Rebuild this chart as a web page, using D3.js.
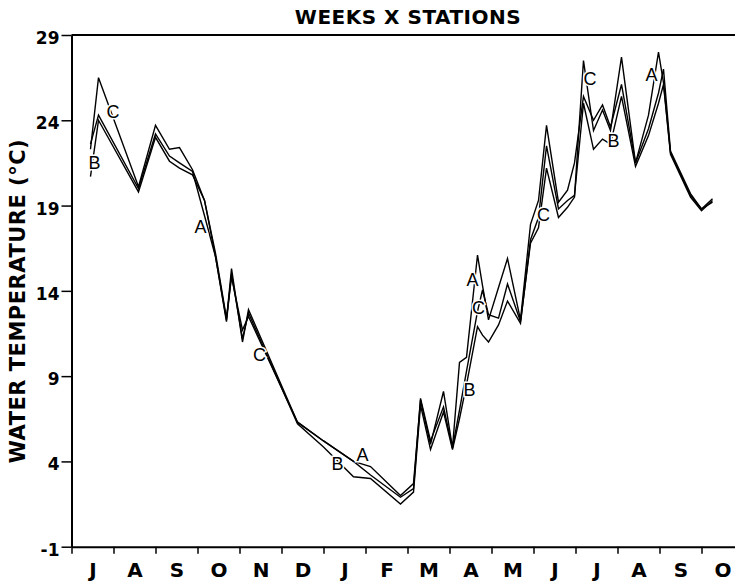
<!DOCTYPE html>
<html>
<head>
<meta charset="utf-8">
<script src="https://cdn.jsdelivr.net/npm/d3@7"></script>
<style>
  html, body { margin: 0; padding: 0; background: #fff; }
  svg { display: block; }
</style>
</head>
<body>
<svg id="chart" width="735" height="583"></svg>
<script>
// ---- data (x in months since 1 July of first year) ----
const monthLabels = ["J","A","S","O","N","D","J","F","M","A","M","J","J","A","S","O"];
const yTickValues = [29, 24, 19, 14, 9, 4, -1];
const sampleMonths = [0.452,0.643,1.595,2.000,2.333,2.571,2.881,3.167,3.429,3.690,3.810,4.071,4.214,5.381,6.000,6.714,7.119,7.833,8.143,8.310,8.548,8.857,9.071,9.238,9.405,9.667,9.786,9.929,10.167,10.381,10.690,10.929,11.119,11.310,11.595,11.810,11.976,12.190,12.429,12.643,12.833,13.095,13.429,13.738,13.976,14.095,14.262,14.738,15.000,15.262];
const stationA = [22.6,24.3,20.0,23.2,21.9,21.5,21.0,18.4,16.0,12.3,15.3,11.0,12.9,6.3,5.2,4.0,3.7,2.0,2.7,7.6,5.0,8.1,4.8,9.8,10.1,16.1,14.3,12.3,14.2,15.9,12.3,17.9,19.3,23.7,19.2,19.9,21.5,25.4,24.0,24.9,23.6,26.1,21.5,24.3,28.0,26.2,22.1,19.6,18.8,19.2];
const stationB = [20.7,24.0,19.8,23.0,21.6,21.2,20.8,19.3,16.0,12.2,15.0,11.2,12.7,6.2,4.85,3.1,3.0,1.5,2.2,7.3,4.7,6.9,4.7,6.5,8.5,11.9,11.4,11.0,12.0,13.4,12.1,17.0,18.3,22.5,18.8,19.3,19.6,25.0,22.3,22.9,22.6,25.4,21.3,23.1,25.0,26.1,22.0,19.5,18.7,19.3];
const stationC = [22.3,26.5,20.1,23.7,22.3,22.4,21.1,19.3,16.2,12.4,14.8,11.7,12.5,6.3,5.2,4.0,3.2,1.9,2.4,7.7,5.2,7.2,4.8,7.0,9.3,12.8,14.05,12.6,12.4,14.4,12.2,16.8,17.7,21.2,18.3,18.9,19.5,27.5,23.4,24.6,23.4,27.7,21.5,23.5,25.6,27.0,22.2,19.7,18.8,19.4];
const labelNames  = ["B","C","A","C","B","A","B","A","C","C","C","B","A"];
const labelMonths = [0.548,0.988,3.07,4.476,6.333,6.929,9.476,9.548,9.69,11.238,12.345,12.905,13.81];
const labelTemps  = [21.5,24.5,17.75,10.24,3.9,4.4,8.2,14.64,13.0,18.45,26.45,22.8,26.7];

// ---- layout ----
const svg = d3.select("#chart");
const plotLeft = 71.5, plotTop = 35, plotBottom = 546.7, monthW = 42;
const x = d3.scaleLinear().domain([0, 16]).range([plotLeft, plotLeft + 16 * monthW]);
const y = d3.scaleLinear().domain([-1, 29]).range([plotBottom, plotTop]);
const FONT = "'DejaVu Sans', 'Liberation Sans', Arial, sans-serif";

// title
svg.append("text")
  .attr("x", 408).attr("y", 24)
  .attr("text-anchor", "middle")
  .style("font-family", FONT).style("font-weight", "bold").style("font-size", "20px")
  .style("letter-spacing", "0.5px")
  .text("WEEKS X STATIONS");

// y title
svg.append("text")
  .attr("transform", "translate(25,301) rotate(-90)")
  .attr("text-anchor", "middle")
  .style("font-family", FONT).style("font-weight", "bold").style("font-size", "21px")
  .style("letter-spacing", "0.5px")
  .text("WATER TEMPERATURE (°C)");

// top border
svg.append("line")
  .attr("x1", x(0)).attr("x2", x(16)).attr("y1", y(29)).attr("y2", y(29))
  .attr("stroke", "#000").attr("stroke-width", 2);

// y axis
const yAxis = svg.append("g").attr("transform", `translate(${plotLeft},0)`)
  .call(d3.axisLeft(y).tickValues(yTickValues).tickSize(10).tickSizeOuter(0).tickPadding(2)
    .tickFormat(d => String(d)));
yAxis.select(".domain").attr("stroke-width", 2);
yAxis.selectAll(".tick line").attr("stroke-width", 1.5);
yAxis.selectAll("text").attr("dy", "0.5em")
  .style("font-family", FONT).style("font-weight", "bold").style("font-size", "17px");

// x axis ticks
const xAxis = svg.append("g").attr("transform", `translate(0,${plotBottom})`)
  .call(d3.axisBottom(x).tickValues(d3.range(0, 17)).tickSize(7).tickSizeOuter(0).tickFormat(""));
xAxis.select(".domain").attr("stroke-width", 2);
xAxis.selectAll(".tick line").attr("stroke-width", 1.5);

// x month labels centred between ticks
const xLab = svg.append("g").attr("transform", `translate(0,${plotBottom})`)
  .call(d3.axisBottom(x).tickValues(monthLabels.map((m, i) => i + 0.5)).tickSize(0).tickPadding(16)
    .tickFormat((d, i) => monthLabels[i]));
xLab.select(".domain").remove();
xLab.selectAll("text").style("font-family", FONT).style("font-weight", "bold").style("font-size", "20px");

// lines
const line = d3.line().x(d => x(d[0])).y(d => y(d[1]));
[stationA, stationB, stationC].forEach(vals => {
  svg.append("path")
    .datum(sampleMonths.map((m, i) => [m, vals[i]]))
    .attr("d", line)
    .attr("fill", "none").attr("stroke", "#000").attr("stroke-width", 1.4)
    .attr("stroke-linejoin", "miter");
});

// station labels
svg.append("g").selectAll("text")
  .data(labelNames.map((n, i) => ({n, m: labelMonths[i], t: labelTemps[i]})))
  .join("text")
  .attr("x", d => x(d.m)).attr("y", d => y(d.t))
  .attr("text-anchor", "middle").attr("dy", "0.36em")
  .style("font-family", "'Liberation Sans', Arial, sans-serif").style("font-size", "18px")
  .attr("stroke", "#fff").attr("stroke-width", 3).attr("paint-order", "stroke")
  .attr("fill", "#000")
  .text(d => d.n);
</script>
</body>
</html>
